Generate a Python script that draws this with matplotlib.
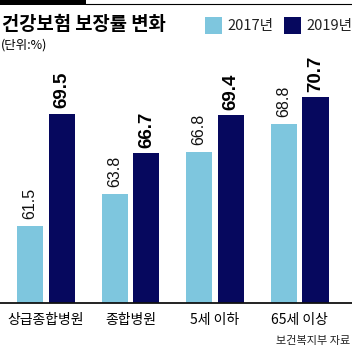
import numpy as np
import matplotlib
matplotlib.use('Agg')
import matplotlib.pyplot as plt
from matplotlib.patches import Rectangle

plt.rcParams['font.family'] = ['Noto Sans CJK KR', 'DejaVu Sans']

categories = ['상급종합병원', '종합병원', '5세 이하', '65세 이상']
values_2017 = [61.5, 63.8, 66.8, 68.8]
values_2019 = [69.5, 66.7, 69.4, 70.7]
series_labels = ['2017년', '2019년']
colors = ['#7EC6DE', '#06085E']

title = '건강보험 보장률 변화'
unit = '(단위:%)'
source = '보건복지부 자료'


def plot_chart():
    fig = plt.figure(figsize=(3.52, 3.48), dpi=100)
    ax = fig.add_axes([0, 45 / 348, 1, 243 / 348])

    x = np.arange(len(categories))
    width = 0.308
    off = 0.189
    ax.bar(x - off, values_2017, width, color=colors[0])
    ax.bar(x + off, values_2019, width, color=colors[1])

    for xi, v in zip(x, values_2017):
        ax.annotate(f'{v:.1f}', (xi - off, v), xytext=(0, 5), textcoords='offset points',
                    rotation=90, ha='center', va='bottom', fontsize=11.5,
                    family='Liberation Sans', color='#111111')
    for xi, v in zip(x, values_2019):
        ax.annotate(f'{v:.1f}', (xi + off, v), xytext=(0, 4), textcoords='offset points',
                    rotation=90, ha='center', va='bottom', fontsize=13.5,
                    family='Liberation Sans', fontweight='bold', color='#000000')

    ax.set_xlim(-0.544, 3.621)
    ax.set_ylim(56, 56 + 243 / 14)
    for s in ['top', 'left', 'right']:
        ax.spines[s].set_visible(False)
    ax.spines['bottom'].set_linewidth(1.3)
    ax.spines['bottom'].set_color('#111111')
    ax.set_yticks([])
    ax.set_xticks(x)
    ax.set_xticklabels(categories, fontsize=10)
    ax.tick_params(axis='x', length=0, pad=7)

    # top decoration
    fig.add_artist(Rectangle((0, 1 - 5 / 348), 86 / 352, 5 / 348, transform=fig.transFigure,
                             color='black', lw=0))
    fig.add_artist(plt.Line2D([86 / 352, 1], [1 - 4 / 348, 1 - 4 / 348], transform=fig.transFigure,
                              color='black', lw=0.8))

    fig.text(2 / 352, 1 - 25 / 348, title, fontsize=13.5, fontweight='bold', va='center', ha='left')
    fig.text(1 / 352, 1 - 45 / 348, unit, fontsize=9, va='center', ha='left')

    # legend
    for i, (lx, tx) in enumerate([(205, 227), (284, 306)]):
        fig.add_artist(Rectangle((lx / 352, 1 - 34 / 348), 17 / 352, 17 / 348,
                                 transform=fig.transFigure, color=colors[i], lw=0))
        fig.text(tx / 352, 1 - 26 / 348, series_labels[i], fontsize=10.5, va='center', ha='left',
                 color='#222222')

    fig.text(350 / 352, 1 - 341 / 348, source, fontsize=8, va='center', ha='right', color='#222222')

    fig.savefig('out.png', dpi=100)


if __name__ == '__main__':
    plot_chart()
